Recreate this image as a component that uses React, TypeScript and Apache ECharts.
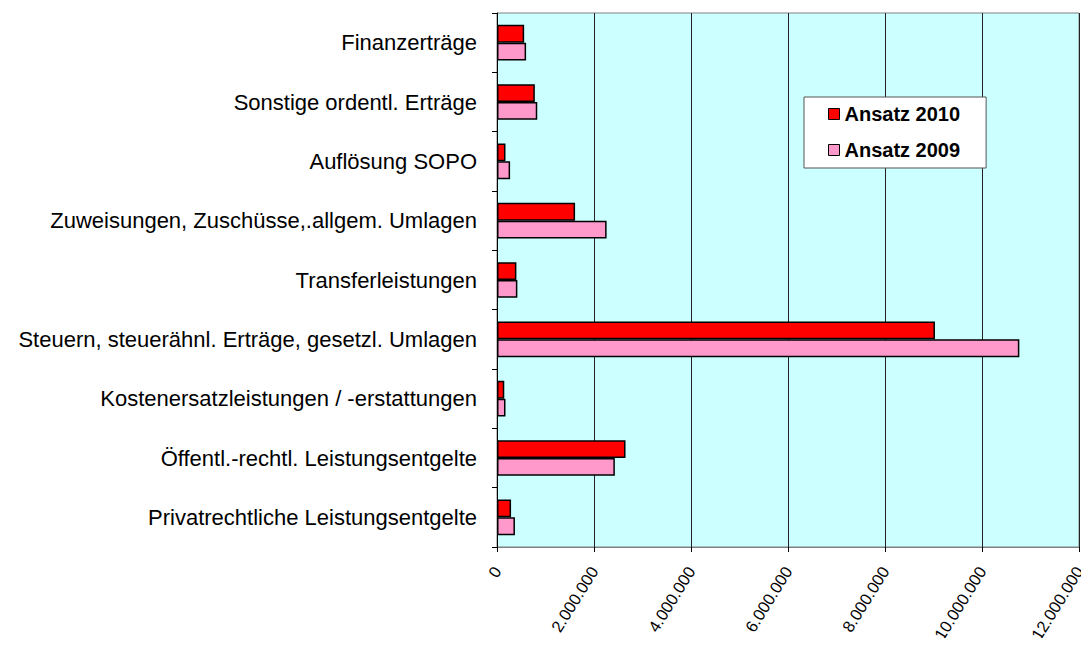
import React, { useEffect, useRef } from "react";
import * as echarts from "echarts";

const categories = [
  "Finanzerträge",
  "Sonstige ordentl. Erträge",
  "Auflösung SOPO",
  "Zuweisungen, Zuschüsse,.allgem. Umlagen",
  "Transferleistungen",
  "Steuern, steuerähnl. Erträge, gesetzl. Umlagen",
  "Kostenersatzleistungen / -erstattungen",
  "Öffentl.-rechtl. Leistungsentgelte",
  "Privatrechtliche Leistungsentgelte",
];
const ansatz2010 = [560000, 780000, 175000, 1610000, 400000, 9030000, 150000, 2650000, 290000];
const ansatz2009 = [600000, 830000, 270000, 2260000, 420000, 10770000, 175000, 2430000, 370000];
const seriesNames = ["Ansatz 2010", "Ansatz 2009"];

const FONT = "'Liberation Sans', Arial, sans-serif";

function fmt(v: number): string {
  return Math.round(v).toString().replace(/\B(?=(\d{3})+(?!\d))/g, ".");
}

export default function App() {
  const ref = useRef<HTMLDivElement>(null);
  useEffect(() => {
    if (!ref.current) return;
    const chart = echarts.init(ref.current, null, { renderer: "svg" });
    chart.setOption({
      animation: false,
      backgroundColor: "#ffffff",
      textStyle: { fontFamily: FONT },
      grid: {
        left: 497,
        right: 10,
        top: 13,
        bottom: 99,
        outerBoundsMode: "none",
        containLabel: false,
        show: true,
        backgroundColor: "#CCFFFF",
        borderColor: "#808080",
        borderWidth: 1,
      },
      legend: {
        data: seriesNames,
        orient: "vertical",
        left: 804,
        top: 97,
        backgroundColor: "#ffffff",
        borderColor: "#555555",
        borderWidth: 1,
        padding: [7, 26, 8, 24],
        itemGap: 16,
        itemWidth: 11,
        itemHeight: 11,
        icon: "rect",
        selectedMode: false,
        itemStyle: { borderColor: "#000", borderWidth: 1 },
        textStyle: { fontFamily: FONT, fontSize: 20, fontWeight: "bold", color: "#000", lineHeight: 20 },
      },
      xAxis: {
        type: "value",
        min: 0,
        max: 12000000,
        interval: 2000000,
        axisLine: { show: true, lineStyle: { color: "#808080", width: 1 } },
        axisTick: { show: true, length: 5, lineStyle: { color: "#000" } },
        splitLine: { show: true, lineStyle: { color: "#222", width: 1 } },
        axisLabel: {
          rotate: 58,
          margin: 21,
          fontSize: 16.5,
          color: "#000",
          fontFamily: FONT,
          hideOverlap: false,
          formatter: (v: number) => fmt(v),
        },
      },
      yAxis: {
        type: "category",
        data: categories,
        inverse: true,
        axisLine: { show: true, lineStyle: { color: "#000", width: 1 } },
        axisTick: { show: true, length: 5, lineStyle: { color: "#000" } },
        axisLabel: { fontSize: 22, color: "#000", margin: 20, fontFamily: FONT },
      },
      series: [
        {
          name: seriesNames[0],
          type: "bar",
          data: ansatz2010,
          barGap: "0%",
          barCategoryGap: "40%",
          itemStyle: { color: "#FF0000", borderColor: "#000", borderWidth: 1.5 },
        },
        {
          name: seriesNames[1],
          type: "bar",
          data: ansatz2009,
          barGap: "0%",
          barCategoryGap: "40%",
          itemStyle: { color: "#FF99CC", borderColor: "#000", borderWidth: 1.5 },
        },
      ],
    });
    return () => chart.dispose();
  }, []);
  return <div ref={ref} style={{ width: 1089, height: 646, margin: -8 }} />;
}
